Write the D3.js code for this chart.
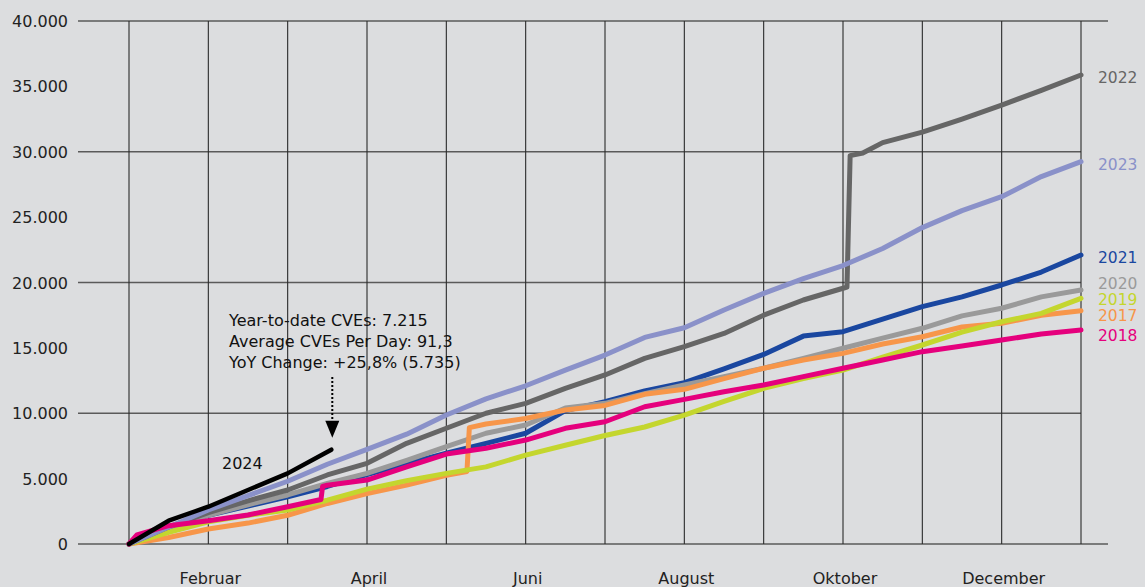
<!DOCTYPE html>
<html>
<head>
<meta charset="utf-8">
<script src="https://cdn.jsdelivr.net/npm/d3@7"></script>
<style>
  body { margin: 0; background: #dcdddf; }
  svg { display: block; font-family: "DejaVu Sans", sans-serif; }
</style>
</head>
<body>
<div id="chart"></div>
<script>
// month index (0 = 1. Jan, 12 = 31. Dec) and cumulative CVE count
var y2017 = [[0,0],[0.5,500],[1,1150],[1.5,1600],[2,2200],[2.5,3100],[3,3850],[3.5,4500],[4,5250],[4.26,5550],[4.29,8900],[4.5,9180],[5,9600],[5.5,10250],[6,10600],[6.5,11450],[7,11830],[7.5,12650],[8,13440],[8.5,14070],[9,14580],[9.5,15300],[10,15850],[10.5,16600],[11,16880],[11.5,17500],[12,17840]];
var y2018 = [[0,0],[0.1,700],[0.5,1400],[1,1780],[1.5,2220],[2,2850],[2.42,3400],[2.44,4400],[2.5,4500],[3,4890],[3.5,5900],[4,6880],[4.5,7320],[5,7950],[5.5,8850],[6,9350],[6.5,10500],[7,11060],[7.5,11650],[8,12160],[8.5,12800],[9,13440],[9.5,14070],[10,14710],[10.5,15140],[11,15600],[11.5,16060],[12,16370]];
var y2019 = [[0,0],[0.5,900],[1,1700],[1.5,2200],[2,2600],[2.5,3350],[3,4200],[3.5,4850],[4,5400],[4.5,5900],[5,6800],[5.5,7550],[6,8300],[6.5,8950],[7,9850],[7.5,10900],[8,11900],[8.5,12650],[9,13300],[9.5,14300],[10,15220],[10.5,16200],[11,17000],[11.5,17640],[12,18790]];
var y2020 = [[0,0],[0.5,1100],[1,2200],[1.5,3000],[2,3750],[2.5,4640],[3,5400],[3.5,6400],[4,7440],[4.5,8470],[5,9100],[5.5,10400],[6,10760],[6.5,11500],[7,12160],[7.5,12800],[8,13440],[8.5,14200],[9,14970],[9.5,15750],[10,16500],[10.5,17450],[11,18030],[11.5,18900],[12,19430]];
var y2021 = [[0,0],[0.5,1200],[1,2200],[1.5,2900],[2,3600],[2.5,4400],[3,5300],[3.5,6150],[4,6940],[4.5,7700],[5,8470],[5.5,10200],[6,10880],[6.5,11700],[7,12340],[7.5,13400],[8,14500],[8.5,15900],[9,16240],[9.5,17200],[10,18150],[10.5,18900],[11,19810],[11.5,20800],[12,22100]];
var y2022 = [[0,0],[0.5,1300],[1,2400],[1.5,3300],[2,4130],[2.5,5280],[3,6170],[3.5,7700],[4,8850],[4.5,10000],[5,10760],[5.5,11900],[6,12930],[6.5,14200],[7,15090],[7.5,16100],[8,17500],[8.5,18660],[9,19560],[9.05,19650],[9.09,29700],[9.25,29900],[9.5,30700],[10,31500],[10.5,32500],[11,33570],[11.5,34700],[12,35870]];
var y2023 = [[0,0],[0.5,1300],[1,2600],[1.5,3700],[2,4800],[2.5,6100],[3,7240],[3.5,8400],[4,9870],[4.5,11100],[5,12100],[5.5,13300],[6,14450],[6.5,15800],[7,16540],[7.5,17900],[8,19170],[8.5,20300],[9,21300],[9.5,22600],[10,24200],[10.5,25500],[11,26560],[11.5,28100],[12,29240]];
var y2024 = [[0,0],[0.5,1780],[1,2850],[1.5,4130],[2,5400],[2.55,7215]];

var years  = ["2021","2020","2017","2019","2022","2023","2018","2024"];
var series = [y2021, y2020, y2017, y2019, y2022, y2023, y2018, y2024];
var colors = ["#1a47a0","#9a9a9a","#f7964a","#c4d62e","#666666","#8a91c9","#e5007d","#000000"];
var labelNudge = [0, -9, 2, -1, 0, 0, 3, 0];

var monthTicks = [0,1,2,3,4,5,6,7,8,9,10,11,12];
var monthLabels = [[1,"Februar"],[3,"April"],[5,"Juni"],[7,"August"],[9,"Oktober"],[11,"December"]];
var yTicks = [0,5000,10000,15000,20000,25000,30000,35000,40000];
var yGrid = [0,10000,20000,30000,40000];
var note = ["Year-to-date CVEs: 7.215", "Average CVEs Per Day: 91,3", "YoY Change: +25,8% (5.735)"];

var width = 1145, height = 587;
var loc = d3.formatLocale({decimal: ",", thousands: ".", grouping: [3], currency: ["", ""]});
var fmt = loc.format(",d");

var x = d3.scaleLinear().domain([0, 12]).range([129, 1081]);
var y = d3.scaleLinear().domain([0, 40000]).range([544, 21]);

var svg = d3.select("#chart").append("svg")
    .attr("width", width)
    .attr("height", height);

svg.append("rect").attr("width", width).attr("height", height).attr("fill", "#dcdddf");

// horizontal grid
svg.selectAll("line.h").data(yGrid).enter()
   .append("line")
   .attr("x1", 78)
   .attr("x2", function(d) { return (d === 0 || d === 40000) ? 1108 : x(12); })
   .attr("y1", function(d) { return y(d); })
   .attr("y2", function(d) { return y(d); })
   .attr("stroke", "#5a5a5a")
   .attr("stroke-width", 1.6);

// vertical grid
svg.selectAll("line.v").data(monthTicks).enter()
   .append("line")
   .attr("x1", function(d) { return x(d); })
   .attr("x2", function(d) { return x(d); })
   .attr("y1", y(40000))
   .attr("y2", y(0))
   .attr("stroke", "#2a2a2a")
   .attr("stroke-width", 1.1);

// y labels
svg.selectAll("text.yl").data(yTicks).enter()
   .append("text")
   .attr("x", 68)
   .attr("y", function(d) { return y(d) + 6; })
   .style("text-anchor", "end")
   .style("font-size", "16px")
   .style("fill", "#222")
   .text(function(d) { return fmt(d); });

// month labels
svg.selectAll("text.ml").data(monthLabels).enter()
   .append("text")
   .attr("x", function(d) { return x(d[0]) + 2; })
   .attr("y", 584)
   .style("text-anchor", "middle")
   .style("font-size", "16px")
   .style("fill", "#222")
   .text(function(d) { return d[1]; });

var line = d3.line()
    .x(function(d) { return x(d[0]); })
    .y(function(d) { return y(d[1]); });

svg.selectAll("path.s").data(series).enter()
   .append("path")
   .attr("d", line)
   .attr("fill", "none")
   .attr("stroke", function(d, i) { return colors[i]; })
   .attr("stroke-width", function(d, i) { return years[i] === "2024" ? 4.5 : 5; })
   .attr("stroke-linejoin", "round")
   .attr("stroke-linecap", "round");

// right-hand year labels
series.forEach(function(s, i) {
  if (years[i] === "2024") return;
  var last = s[s.length - 1];
  svg.append("text")
     .attr("x", 1098)
     .attr("y", y(last[1]) + 8 + labelNudge[i])
     .style("font-size", "15.5px")
     .style("fill", colors[i])
     .text(years[i]);
});

// 2024 label and note
var end24 = y2024[y2024.length - 1];
svg.append("text")
   .attr("x", 222)
   .attr("y", 469)
   .style("font-size", "16px")
   .style("fill", "#111")
   .text("2024");

svg.selectAll("text.note").data(note).enter()
   .append("text")
   .attr("x", 229)
   .attr("y", function(d, i) { return 326 + i * 21; })
   .style("font-size", "16px")
   .style("fill", "#111")
   .text(function(d) { return d; });

var ax = x(end24[0]) + 1, tipY = y(end24[1]) - 12;
svg.append("line")
   .attr("x1", ax).attr("x2", ax)
   .attr("y1", 377).attr("y2", tipY - 16)
   .attr("stroke", "#000")
   .attr("stroke-width", 2)
   .attr("stroke-dasharray", "2,2");
svg.append("path")
   .attr("d", "M" + (ax - 7) + "," + (tipY - 17) + "L" + (ax + 7) + "," + (tipY - 17) + "L" + ax + "," + tipY + "Z")
   .attr("fill", "#000");
</script>
</body>
</html>
